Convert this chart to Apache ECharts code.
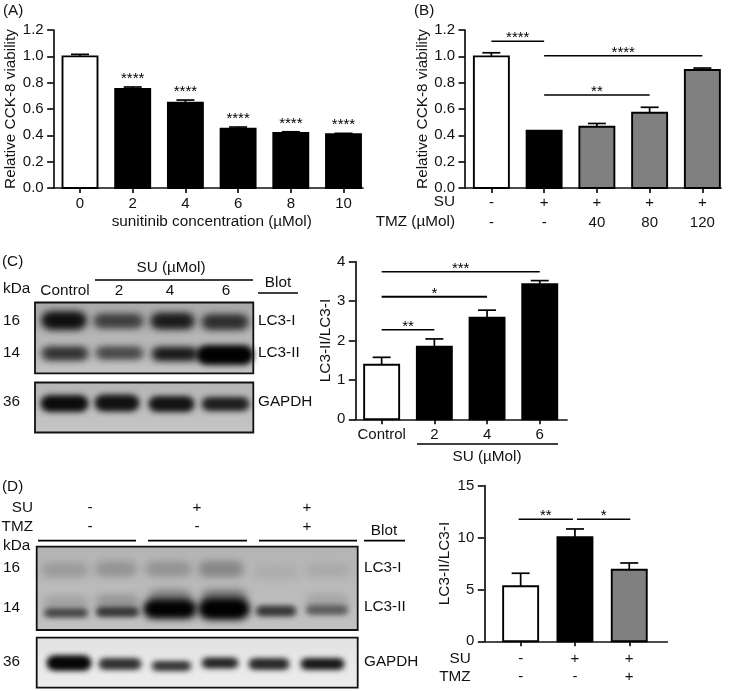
<!DOCTYPE html>
<html><head><meta charset="utf-8">
<style>html,body{margin:0;padding:0;background:#fff}#c{width:733px;height:691px}</style>
<script src="https://cdn.jsdelivr.net/npm/echarts@6/dist/echarts.min.js"></script>
</head><body><div id="c"></div>
<script>
// ---------- data ----------
const catsA = ['0','2','4','6','8','10'];
const valsA = [1.0,0.752,0.648,0.45,0.418,0.408];
const errA  = [0.015,0.015,0.02,0.013,0.009,0.007];
const starsA = ['','****','****','****','****','****'];

const suB  = ['-','+','+','+','+'];
const tmzB = ['-','-','40','80','120'];
const valsB = [1.0,0.435,0.465,0.572,0.896];
const errB  = [0.027,0,0.025,0.041,0.015];
const sigB = [[0,1,1.114],[1,4,1.005],[1,3,0.706]];
const sigStarsB = ['****','****','**'];

const catsC = ['Control','2','4','6'];
const valsC = [1.386,1.84,2.58,3.43];
const errC  = [0.187,0.2,0.19,0.09];
const sigC = [[0,3,3.746],[0,2,3.11],[0,1,2.27]];
const sigStarsC = ['***','*','**'];

const suD  = ['-','+','+'];
const tmzD = ['-','-','+'];
const valsD = [5.3,10.03,6.9];
const errD  = [1.26,0.8,0.65];
const sigD = [[0,1,11.76],[1,2,11.76]];
const sigStarsD = ['**','*'];

// ---------- helpers ----------
const FONT = '"Liberation Sans", Arial, sans-serif';
const INK = '#111111';
const WHITE='#ffffff', BLACK='#000000', GREY='#808080';
const TXT = 15.3;
const panels = [
 {cats:catsA, vals:valsA, err:errA, stars:starsA, fills:[WHITE,BLACK,BLACK,BLACK,BLACK,BLACK],
  left:53.65, top:30, w:316.2, h:158, lineL:53, lineR:363, max:1.2, step:0.2, fmt:v=>v.toFixed(1),
  yName:'Relative CCK-8 viability', nameGap:35, barW:35, capW:18, axisMargin:7, lh:18,
  xName:'sunitinib concentration (µMol)'},
 {cats:suB.map((s,i)=>s+'\n'+tmzB[i]), vals:valsB, err:errB, fills:[WHITE,BLACK,GREY,GREY,GREY],
  left:465, top:30, w:263.75, h:158, lineL:465, lineR:721, max:1.2, step:0.2, fmt:v=>v.toFixed(1),
  yName:'Relative CCK-8 viability', nameGap:33, barW:35, capW:18, axisMargin:5, lh:20, sig:sigB, sigStars:sigStarsB},
 {cats:catsC, vals:valsC, err:errC, fills:[WHITE,BLACK,BLACK,BLACK],
  left:355.3, top:261.7, w:210.8, h:157.6, lineL:355.3, lineR:567, max:4, step:1, fmt:v=>String(v),
  yName:'LC3-II/LC3-I', nameGap:21, barW:35, capW:18, axisMargin:7, lh:18, sig:sigC, sigStars:sigStarsC,
  sigWidth:[1.5,2,1.5]},
 {cats:suD.map((s,i)=>s+'\n'+tmzD[i]), vals:valsD, err:errD, fills:[WHITE,BLACK,GREY],
  left:493.5, top:485.7, w:162.9, h:155.6, lineL:484.3, lineR:667.3, max:15, step:5, fmt:v=>String(v),
  yOffset:9.2, yName:'LC3-II/LC3-I', nameGap:32, barW:35, capW:18, axisMargin:9, lh:18, sig:sigD, sigStars:sigStarsD,
  sigShift:[[-2,-2],[2,1]]}
];

const grid=[], xAxis=[], yAxis=[], series=[];
panels.forEach((p,k)=>{
  grid.push({left:p.left, top:p.top, width:p.w, height:p.h, containLabel:false});
  xAxis.push({type:'category', gridIndex:k, data:p.cats, boundaryGap:true,
    axisLine:{show:false}, splitLine:{show:false},
    axisTick:{show:true, alignWithLabel:true, length:5, lineStyle:{color:INK,width:1.7}},
    axisLabel:{color:INK, fontFamily:FONT, fontSize:15, margin:p.axisMargin, lineHeight:p.lh, interval:0},
    name:p.xName||'', nameLocation:'middle', nameGap:24,
    nameTextStyle:{color:INK, fontFamily:FONT, fontSize:TXT}});
  yAxis.push({type:'value', gridIndex:k, min:0, max:p.max, interval:p.step, offset:p.yOffset||0,
    axisLine:{show:true, lineStyle:{color:INK,width:1.7}},
    axisTick:{show:true, length:6.5, lineStyle:{color:INK,width:1.7}},
    splitLine:{show:false},
    axisLabel:{color:INK, fontFamily:FONT, fontSize:15, margin:10, formatter:p.fmt},
    name:p.yName, nameLocation:'middle', nameGap:p.nameGap, nameRotate:90,
    nameTextStyle:{color:INK, fontFamily:FONT, fontSize:TXT}});
  series.push({type:'custom', xAxisIndex:k, yAxisIndex:k, clip:false, silent:true,
    encode:{x:0,y:[1,2]},
    data:p.vals.map((v,i)=>[i,v,v+p.err[i]]),
    renderItem:(params,api)=>{
      const i=params.dataIndex, base=api.coord([i,0]), top=api.coord([i,api.value(1)]), et=api.coord([i,api.value(2)]);
      const cx=base[0], bw=p.barW, lw=1.9, ch=[];
      if(p.err[i]>0){
        ch.push({type:'line',shape:{x1:cx,y1:top[1],x2:cx,y2:et[1]},style:{stroke:BLACK,lineWidth:1.7}});
        ch.push({type:'line',shape:{x1:cx-p.capW/2,y1:et[1],x2:cx+p.capW/2,y2:et[1]},style:{stroke:BLACK,lineWidth:1.7}});
      }
      ch.push({type:'rect',shape:{x:cx-bw/2,y:top[1],width:bw,height:base[1]-top[1]},
        style:{fill:p.fills[i],stroke:BLACK,lineWidth:lw}});
      if(p.stars&&p.stars[i]) ch.push({type:'text',style:{text:p.stars[i],x:cx,y:et[1]-8,fill:BLACK,
        font:'15px '+FONT,align:'center',verticalAlign:'middle',textAlign:'center',textVerticalAlign:'middle'}});
      return {type:'group',children:ch};
    }});
  if(p.sig){
    series.push({type:'custom', xAxisIndex:k, yAxisIndex:k, clip:false, silent:true,
      encode:{x:[0,1],y:2}, data:p.sig,
      renderItem:(params,api)=>{
        const i=params.dataIndex, a=api.coord([api.value(0),api.value(2)]), b=api.coord([api.value(1),api.value(2)]);
        const sh=(p.sigShift&&p.sigShift[i])||[0,0];
        const x1=a[0]+sh[0], x2=b[0]+sh[1];
        return {type:'group',children:[
          {type:'line',shape:{x1,y1:a[1],x2,y2:a[1]},style:{stroke:BLACK,lineWidth:(p.sigWidth?p.sigWidth[i]:1.5)}},
          {type:'text',style:{text:p.sigStars[i],x:(x1+x2)/2,y:a[1]-3,fill:BLACK,font:'15px '+FONT,
            align:'center',verticalAlign:'middle',textAlign:'center',textVerticalAlign:'middle'}}
        ]};
      }});
  }
});
// axis baselines, each in its own line-only grid because they run past the category bands
panels.forEach((p,k)=>{
  const idx=panels.length+k;
  grid.push({left:p.lineL, top:p.top, width:p.lineR-p.lineL, height:p.h});
  xAxis.push({type:'value', gridIndex:idx, min:0, max:1, axisLine:{show:true,onZero:false,lineStyle:{color:INK,width:1.7}},
    axisTick:{show:false}, axisLabel:{show:false}, splitLine:{show:false}});
  yAxis.push({type:'value', gridIndex:idx, min:0, max:1, show:false});
});

// ---------- page furniture ----------
const g=[];
function T(text,x,y,align,size){g.push({type:'text',silent:true,style:{text,x,y,fill:INK,font:(size||TXT)+'px '+FONT,
  align:align||'left',verticalAlign:'middle',textAlign:align||'left',textVerticalAlign:'middle'}});}
function L(x1,x2,y,w){g.push({type:'line',silent:true,shape:{x1,y1:y,x2,y2:y},style:{stroke:BLACK,lineWidth:w||1.7}});}
const FAR=2000;
function blot(x1,y1,x2,y2,bgTop,bgBottom,bands){
  g.push({type:'rect',silent:true,shape:{x:x1,y:y1,width:x2-x1,height:y2-y1},
    style:{fill:{type:'linear',x:0,y:0,x2:0,y2:1,colorStops:[{offset:0,color:bgTop},{offset:1,color:bgBottom}]}}});
  bands.forEach(b=>{
    const [a,c,cy,h,col,blur]=b;
    for(let n=0;n<2;n++){
      g.push({type:'rect',silent:true,shape:{x:a-FAR,y:cy-h/2,width:c-a,height:h,r:h/2},
        style:{fill:col,shadowColor:col,shadowBlur:blur||8,shadowOffsetX:FAR}});
    }
  });
  g.push({type:'rect',silent:true,shape:{x:x1,y:y1,width:x2-x1,height:y2-y1},style:{fill:'none',stroke:'#111',lineWidth:1.8}});
}

T('(A)',3,11); T('(B)',414,11); T('(C)',2,261.7); T('(D)',2,487);
// panel B row titles
T('SU',455,201.7,'right'); T('TMZ (µMol)',455,221.7,'right');
// panel C blot
T('kDa',3,289); T('Control',65,291,'center'); T('2',119,291,'center'); T('4',170,291,'center'); T('6',226,291,'center');
T('SU (µMol)',171,268,'center'); L(95,253,280); T('Blot',278,283,'center'); L(258,298,293);
T('16',3,321); T('14',3,353); T('36',3,402);
T('LC3-I',258,321); T('LC3-II',258,353); T('GAPDH',258,402);
blot(35,302.5,253.3,373.3,'#a9a9a9','#c4c4c4',[
 [43,85,320.5,14,'#0d0d0d'],[95,142,321,10,'#3a3a3a'],[152,193,321,12,'#181818'],[203,247,322,11,'#2a2a2a'],
 [43,87,353.5,9,'#282828'],[97,142,353,8,'#3c3c3c'],[153,197,354,9,'#0c0c0c'],[198,252,355,16,'#000',7]]);
blot(35,382.5,253.3,432.5,'#b5b5b5','#c6c6c6',[
 [42,87,403.5,13,'#0a0a0a',7],[96,138,403,13,'#101010',7],[150,193,404,12,'#111',7],[203,248,404,10,'#1a1a1a',7]]);
// panel C chart footer
L(417,558,444); T('SU (µMol)',487,456.7,'center');
// panel D blot
T('SU',33,508,'right'); T('TMZ',33,527,'right'); T('kDa',3,546);
T('-',90,508,'center'); T('+',197,508,'center'); T('+',307,508,'center');
T('-',90,527,'center'); T('-',197,527,'center'); T('+',307,527,'center');
L(38,136,540.7); L(148,247,540.7); L(259,357,540.7);
T('Blot',384,531,'center'); L(364,405,540.7);
T('16',3,568); T('14',3,608); T('36',3,662);
T('LC3-I',364,568); T('LC3-II',364,607); T('GAPDH',364,662);
blot(36.7,546.7,357.7,630,'#b4b4b4','#c2c2c2',[
 [43,87,570,10,'#9a9a9a',10],[97,135,569,10,'#929292',10],[147,190,569,10,'#929292',10],[200,242,569,11,'#858585',10],[255,297,572,8,'#acacac',10],[307,348,570,8,'#a8a8a8',10],
 [45,87,603,9,'#a0a0a0',10],[97,138,602,10,'#959595',10],[150,190,597,10,'#808080',10],[203,245,597,10,'#747474',10],[307,347,601,9,'#a4a4a4',10],
 [45,87,613,5,'#333',6],[97,138,612,6,'#2a2a2a',6],[145,195,609,15,'#000',8],[200,248,609,17,'#000',8],[257,295,611,7,'#303030',6],[307,347,610,6,'#555',6]]);
blot(36.7,637.7,357.7,687.7,'#e2e2e2','#ededed',[
 [48,90,663,12,'#050505',6],[100,140,664,8,'#2b2b2b',6],[153,190,666,6,'#232323',6],[203,237,663,7,'#1a1a1a',6],[250,288,664,8,'#222',6],[302,343,664,8,'#111',6]]);
// panel D chart row titles
T('SU',470.7,659,'right'); T('TMZ',470.7,677,'right');

const chart=echarts.init(document.getElementById('c'),null,{renderer:'canvas'});
chart.setOption({animation:false, backgroundColor:'#fff', textStyle:{fontFamily:FONT}, grid, xAxis, yAxis, series, graphic:{elements:g}});
</script></body></html>
